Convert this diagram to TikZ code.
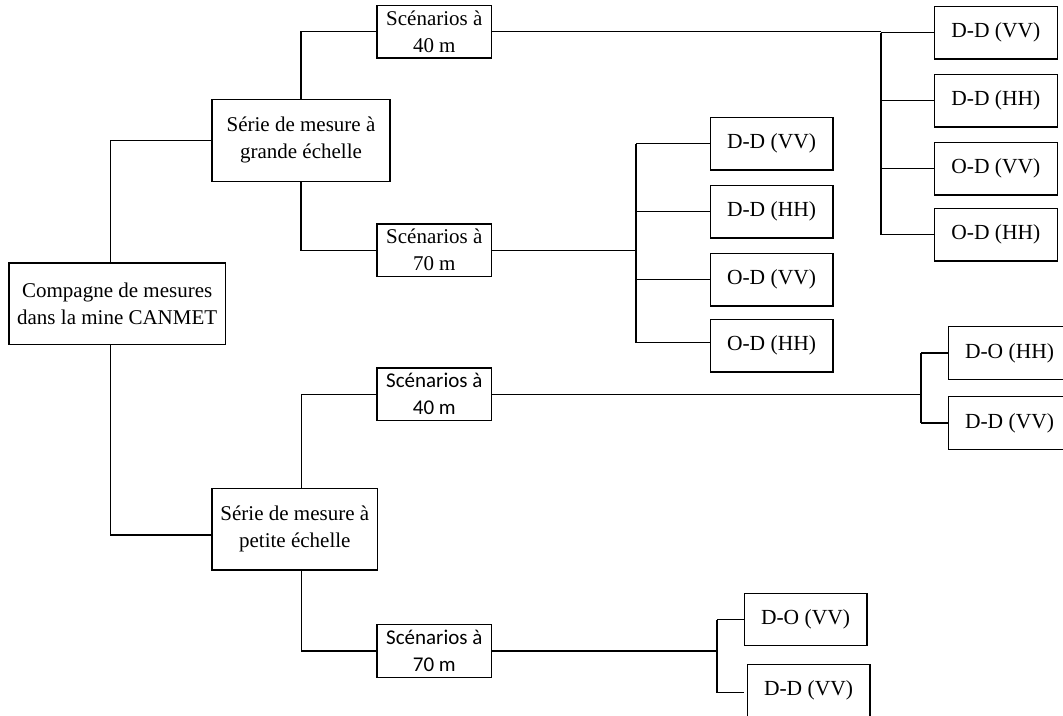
\documentclass[tikz,border=0pt]{standalone}
\usepackage{fontspec}
\setmainfont{Liberation Serif}
\newfontfamily\calfont{Carlito}
\begin{document}
\begin{tikzpicture}[x=1pt,y=-1pt,
  every node/.style={inner sep=0pt, outer sep=0pt},
  box/.style={draw, line width=1.3pt, align=center, font=\fontsize{21}{27}\selectfont},
  bigbox/.style={box, minimum height=81.5pt},
  scen/.style={box, minimum width=114.7pt, minimum height=52.7pt},
  leaf/.style={box, minimum width=122.7pt, minimum height=52.6pt, font=\fontsize{21.5}{27}\selectfont},
  link/.style={line width=1.3pt}]
\useasboundingbox (0,0) rectangle (1063,715);
\clip (0,0) rectangle (1063,715);

% root and the two measurement series
\node[bigbox, minimum width=216.3pt] (comp) at (117.2,303.8) {Compagne de mesures\\dans la mine CANMET};
\node[bigbox, minimum width=178pt, minimum height=82pt] (sg) at (301,140.3) {Série de mesure à\\grande échelle};
\node[bigbox, minimum width=165.7pt] (sp) at (294.8,529.3) {Série de mesure à\\petite échelle};

% scenario boxes
\node[scen] (s40a) at (434.3,31.7) {Scénarios à\\40 m};
\node[scen] (s70a) at (434.3,250.2) {Scénarios à\\70 m};
\node[scen, font=\calfont\fontsize{21}{27}\selectfont] (s40b) at (434.3,394.3) {Scénarios à\\40 m};
\node[scen, font=\calfont\fontsize{21}{27}\selectfont] (s70b) at (434.3,651) {Scénarios à\\70 m};

% leaves, large scale, 40 m
\node[leaf] (a1) at (995.8,32.7) {D-D (VV)};
\node[leaf] (a2) at (995.8,100.8) {D-D (HH)};
\node[leaf] (a3) at (995.8,168.8) {O-D (VV)};
\node[leaf] (a4) at (995.8,234.8) {O-D (HH)};
% leaves, large scale, 70 m
\node[leaf] (b1) at (771.5,143.7) {D-D (VV)};
\node[leaf] (b2) at (771.5,211.7) {D-D (HH)};
\node[leaf] (b3) at (771.5,279.7) {O-D (VV)};
\node[leaf] (b4) at (771.5,345.7) {O-D (HH)};
% leaves, small scale, 40 m
\node[leaf] (c1) at (1009.5,353) {D-O (HH)};
\node[leaf] (c2) at (1009.5,423) {D-D (VV)};
% leaves, small scale, 70 m
\node[leaf] (d1) at (805.5,619.5) {D-O (VV)};
\node[leaf] (d2) at (808.5,690.5) {D-D (VV)};

% trunk and junction positions
\coordinate (t0) at (110.7,0);
\coordinate (t1) at (301.3,0);
\coordinate (jA) at (881,0);
\coordinate (jB) at (636,0);
\coordinate (jC) at (921,0);
\coordinate (jD) at (717,0);

% root to series
\draw[link] (comp.north -| t0) |- (sg.west);
\draw[link] (comp.south -| t0) |- ([yshift=-5.7pt]sp.west);

% series to scenarios
\draw[link] (sg.north) |- (s40a.west);
\draw[link] (sg.south) |- (s70a.west);
\draw[link] (sp.north -| t1) |- (s40b.west);
\draw[link] (sp.south -| t1) |- (s70b.west);

% scenarios to leaves
\draw[link] (s40a.east) -- (s40a.east -| jA);
\draw[link] (a1.west -| jA) -- (a4.west -| jA);
\foreach \n in {a1,a2,a3,a4} \draw[link] (\n.west -| jA) -- (\n.west);

\draw[link] (s70a.east) -- (s70a.east -| jB);
\draw[link] (b1.west -| jB) -- ([yshift=3pt]b4.west -| jB);
\foreach \n in {b1,b2,b3} \draw[link] (\n.west -| jB) -- (\n.west);
\draw[link] ([yshift=3pt]b4.west -| jB) -- ([yshift=3pt]b4.west);

\draw[link] (s40b.east) -- (s40b.east -| jC);
\draw[link] (c1.west -| jC) -- (c2.west -| jC);
\foreach \n in {c1,c2} \draw[link] (\n.west -| jC) -- (\n.west);

\draw[link] (s70b.east) -- (s70b.east -| jD);
\draw[link] (d1.west -| jD) -- ([yshift=-2pt]d2.west -| jD);
\draw[link] (d1.west -| jD) -- (d1.west);
\draw[link] ([yshift=-2pt]d2.west -| jD) -- ([yshift=-2pt,xshift=-3pt]d2.west);
\end{tikzpicture}
\end{document}
